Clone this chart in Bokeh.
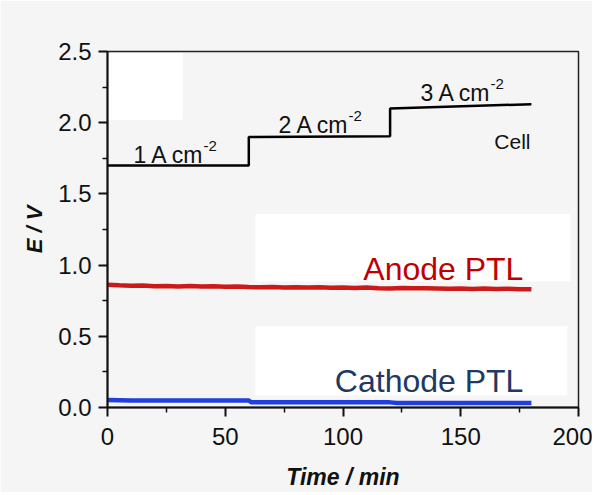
from bokeh.plotting import figure
from bokeh.models import ColumnDataSource, Range1d
from bokeh.core.properties import value
from bokeh.embed import file_html
from bokeh.resources import INLINE

# ---- data ----
cell_t = [0, 60, 60, 120, 120, 180]
cell_e = [1.70, 1.70, 1.90, 1.905, 2.10, 2.13]

anode_t = [0, 5, 10, 15, 20, 25, 30, 35, 40, 45, 50, 55, 60, 65, 70, 75, 80, 85, 90,
           95, 100, 105, 110, 115, 120, 125, 130, 135, 140, 145, 150, 155, 160, 165,
           170, 175, 180]
anode_e = [0.862, 0.858, 0.855, 0.857, 0.852, 0.854, 0.850, 0.853, 0.849, 0.851,
           0.848, 0.850, 0.846, 0.844, 0.846, 0.843, 0.845, 0.842, 0.844, 0.841,
           0.843, 0.840, 0.842, 0.838, 0.836, 0.840, 0.837, 0.838, 0.836, 0.834,
           0.836, 0.833, 0.835, 0.832, 0.834, 0.831, 0.830]

cathode_t = [0, 10, 20, 30, 40, 50, 60, 61, 70, 80, 90, 100, 110, 120, 123, 130,
             140, 150, 160, 170, 180]
cathode_e = [0.052, 0.050, 0.049, 0.050, 0.049, 0.050, 0.050, 0.036, 0.037, 0.036,
             0.037, 0.036, 0.036, 0.036, 0.031, 0.031, 0.032, 0.031, 0.031, 0.031,
             0.031]

x_ticks = [0, 50, 100, 150, 200]
y_ticks = [0.0, 0.5, 1.0, 1.5, 2.0, 2.5]
y_tick_labels = ["0.0", "0.5", "1.0", "1.5", "2.0", "2.5"]

step_labels = ["1 A cm", "2 A cm", "3 A cm"]
step_sup = ["-2", "-2", "-2"]

FONT = "Liberation Sans"
BG = "#f5f5f5"

p = figure(width=592, height=492, output_backend="svg", toolbar_location=None,
           x_range=Range1d(0, 200), y_range=Range1d(0, 2.5),
           min_border_left=107, min_border_right=14, min_border_top=51,
           min_border_bottom=82)
p.background_fill_color = BG
p.border_fill_color = BG
p.xgrid.visible = False
p.ygrid.visible = False
p.outline_line_color = "#222222"
p.outline_line_width = 1.5

# white patches behind pasted labels
p.quad(left=[62.8, 62.8, 0.5], right=[196.6, 195.3, 32.0],
       bottom=[0.884, 0.084, 2.02], top=[1.358, 0.571, 2.49],
       fill_color="white", line_color=None)

# series
p.line(cell_t, cell_e, line_color="black", line_width=2.5)
p.line(anode_t, anode_e, line_color="#cc1a1a", line_width=4.5)
p.line(cathode_t, cathode_e, line_color="#1f3fe0", line_width=4.5)

# step annotations
sx = [11.0, 72.6, 132.9]
sy = [1.776, 1.985, 2.207]
src = ColumnDataSource(dict(x=sx, y=sy, t=step_labels, s=step_sup))
p.text(x="x", y="y", text="t", source=src, text_font=value(FONT),
       text_font_size="23px", text_color="#111111", text_baseline="alphabetic",
       text_align="left")
p.text(x="x", y="y", text="s", source=src, text_font=value(FONT),
       text_font_size="15px", text_color="#111111", text_baseline="alphabetic",
       text_align="left", x_offset=70, y_offset=-9)

p.text(x=[179.6], y=[1.866], text=["Cell"], text_font=value(FONT),
       text_font_size="21px", text_color="#111111", text_baseline="alphabetic",
       text_align="right")
p.text(x=[176.6], y=[0.975], text=["Anode PTL"], text_font=value(FONT),
       text_font_size="32px", text_color="#c00000", text_baseline="alphabetic",
       text_align="right")
p.text(x=[176.6], y=[0.188], text=["Cathode PTL"], text_font=value(FONT),
       text_font_size="32px", text_color="#203864", text_baseline="alphabetic",
       text_align="right")

# axes
for ax in (p.xaxis[0], p.yaxis[0]):
    ax.axis_line_width = 2
    ax.axis_line_color = "#111111"
    ax.major_tick_line_width = 2
    ax.minor_tick_line_width = 1.5
    ax.major_tick_line_color = "#111111"
    ax.minor_tick_line_color = "#111111"
    ax.major_tick_in = 0
    ax.major_tick_out = 9
    ax.minor_tick_in = 0
    ax.minor_tick_out = 5
    ax.major_label_text_font = FONT
    ax.major_label_text_font_size = "24px"
    ax.major_label_text_color = "#111111"
    ax.axis_label_text_font = FONT
    ax.axis_label_text_font_style = "bold italic"
    ax.axis_label_text_color = "#111111"

p.xaxis.ticker = x_ticks
p.xaxis.ticker.minor_ticks = [25, 75, 125, 175]
p.yaxis.ticker = y_ticks
p.yaxis.ticker.minor_ticks = [0.25, 0.75, 1.25, 1.75, 2.25]
p.yaxis.major_label_overrides = {v: l for v, l in zip(y_ticks, y_tick_labels)}

p.xaxis.axis_label = "Time / min"
p.xaxis.axis_label_text_font_size = "23px"
p.xaxis.major_label_standoff = 11
p.xaxis.axis_label_standoff = 16
p.yaxis.axis_label = "E / V"
p.yaxis.axis_label_text_font_size = "22px"
p.yaxis.major_label_standoff = 7
p.yaxis.axis_label_standoff = 8

open("out.html", "w").write(file_html(p, INLINE))
